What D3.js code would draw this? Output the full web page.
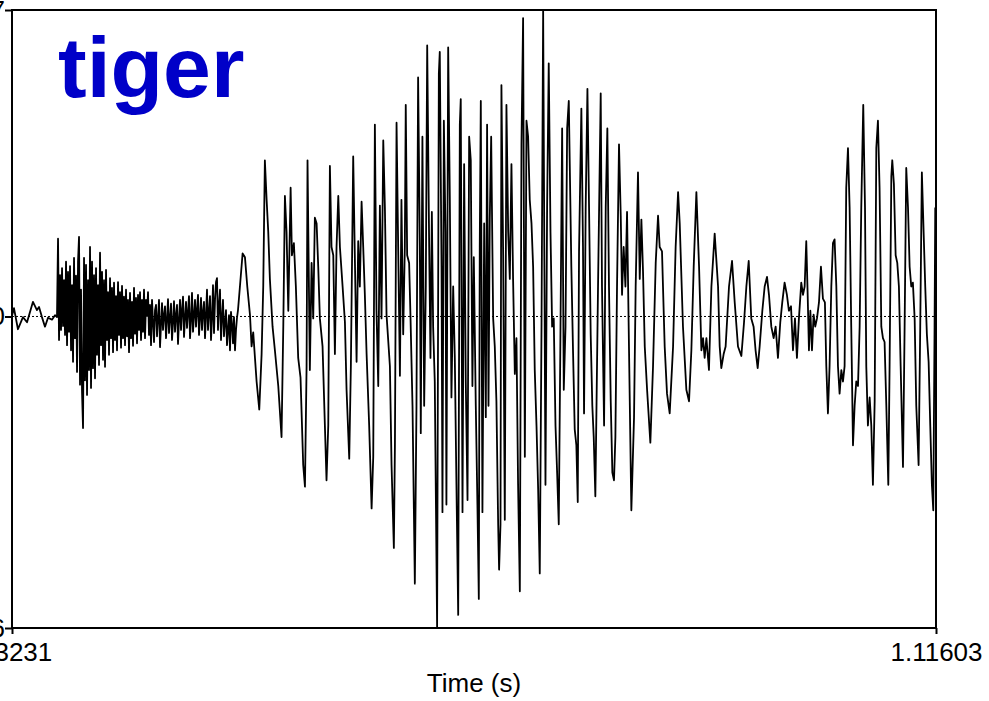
<!DOCTYPE html>
<html>
<head>
<meta charset="utf-8">
<script src="https://cdn.jsdelivr.net/npm/d3@7"></script>
<style>
  html, body { margin: 0; padding: 0; background: #fff; overflow: hidden; }
  svg { display: block; font-family: "Liberation Sans", Arial, Helvetica, sans-serif; }
</style>
</head>
<body>
<svg id="chart" width="989" height="701"></svg>
<script>
// labels and ticks
var title = "tiger";
var xLabel = "Time (s)";
var xTicks = [0.3231, 1.11603];
var yTicks = [-0.4886, 0, 0.4807];

// near silence before the release: [time (s), amplitude]
var onset = [
  [0.3231,0.001],[0.3248,0.013],[0.3282,-0.020],[0.3325,-0.001],[0.3360,-0.009],
  [0.3411,0.023],[0.3445,0.010],[0.3463,0.015],[0.3488,-0.001],[0.3514,-0.016],
  [0.3540,-0.002],[0.3574,-0.005],[0.3600,0.002],[0.3617,-0.001]
];

// aspiration noise of the /t/, one amplitude per sample step
var burstStart = 0.3626, burstStep = 0.000858;
var burst = [
  0.122,-0.037,0.065,-0.021,0.076,-0.015,0.057,-0.029,0.086,-0.045,
  0.070,-0.024,0.079,-0.053,0.049,-0.071,0.092,-0.034,0.064,-0.087,
  0.086,0.125,-0.107,0.042,-0.118,-0.175,0.092,-0.100,0.081,-0.123,
  0.057,-0.084,0.109,-0.112,0.086,-0.081,0.065,-0.097,0.076,-0.060,
  0.049,-0.076,0.100,-0.045,0.070,-0.068,0.057,-0.079,0.073,-0.037,
  0.038,-0.060,0.060,-0.034,0.045,-0.056,0.053,-0.037,0.032,-0.053,
  0.054,-0.029,0.038,-0.049,0.048,-0.034,0.031,-0.045,0.042,-0.031,
  0.026,-0.056,0.037,-0.034,0.023,-0.046,0.045,-0.027,0.029,-0.042,
  0.034,-0.021,0.038,-0.037,0.026,-0.024,0.042,-0.034,0.026,0.001,
  0.038,-0.029,0.018,-0.045,0.026,-0.009,-0.040,0.010,0.018,-0.031,
  -0.002,0.026,-0.048,-0.013,0.021,-0.021,0.002,0.016,-0.034,-0.005,
  0.027,-0.026,-0.002,0.020,-0.037,-0.009,0.024,-0.024,0.002,0.018,
  -0.043,-0.005,0.026,-0.021,0.010,0.031,-0.032,-0.002,0.023,-0.018,
  0.007,0.032,-0.034,-0.005,0.037,-0.024,0.002,0.026,-0.016,0.010,
  0.034,-0.029,-0.002,0.029,-0.021,0.007,0.023,-0.034,0.002,0.042,
  -0.021,0.007,0.032,-0.037,-0.002,0.049,-0.026,0.026,0.054,0.060,
  -0.021,0.018,0.042,-0.037,-0.002,0.026,-0.031,-0.009,0.010,-0.045,
  -0.021,0.002,-0.053,0.007,-0.013,-0.042,-0.001,-0.053,-0.021,-0.002,
  0.010
];

// voiced part (vowel + "ger"): turning points, [time (s), amplitude]
var voiced = [
  [0.5187,0.047],[0.5210,0.099],[0.5230,0.093],[0.5250,0.047],[0.5273,0.003],
  [0.5287,-0.047],[0.5301,-0.025],[0.5316,-0.065],[0.5330,-0.102],[0.5353,-0.146],
  [0.5373,-0.059],[0.5387,0.047],[0.5401,0.245],[0.5416,0.183],[0.5430,0.133],
  [0.5444,0.059],[0.5467,-0.016],[0.5487,-0.053],[0.5516,-0.109],[0.5544,-0.189],
  [0.5559,-0.016],[0.5573,0.189],[0.5587,0.133],[0.5602,0.009],[0.5622,0.202],
  [0.5633,0.096],[0.5650,0.115],[0.5667,0.047],[0.5687,-0.065],[0.5707,-0.096],
  [0.5730,-0.233],[0.5745,-0.267],[0.5759,-0.078],[0.5767,0.245],[0.5787,-0.084],
  [0.5802,0.084],[0.5816,-0.003],[0.5830,0.155],[0.5845,0.146],[0.5859,0.078],
  [0.5873,-0.003],[0.5896,-0.047],[0.5916,-0.171],[0.5930,-0.257],[0.5945,-0.171],
  [0.5959,0.236],[0.5973,0.109],[0.5988,0.096],[0.6002,-0.059],[0.6016,0.109],
  [0.6031,0.189],[0.6045,0.109],[0.6068,0.047],[0.6088,-0.009],[0.6102,-0.115],
  [0.6125,-0.223],[0.6139,-0.078],[0.6159,0.251],[0.6174,0.084],[0.6188,-0.071],
  [0.6202,0.118],[0.6216,0.047],[0.6231,0.180],[0.6245,0.109],[0.6259,0.034],
  [0.6274,-0.059],[0.6296,-0.171],[0.6317,-0.301],[0.6331,-0.220],[0.6345,0.301],
  [0.6359,0.009],[0.6374,-0.109],[0.6388,0.174],[0.6402,-0.003],[0.6417,0.276],
  [0.6431,0.171],[0.6445,0.003],[0.6474,-0.078],[0.6488,-0.233],[0.6508,-0.363],
  [0.6517,-0.202],[0.6531,0.304],[0.6545,0.109],[0.6560,-0.093],[0.6573,0.183],
  [0.6588,-0.028],[0.6602,0.109],[0.6610,0.332],[0.6622,0.096],[0.6639,0.084],
  [0.6651,-0.003],[0.6668,-0.140],[0.6688,-0.419],[0.6702,-0.140],[0.6716,0.375],
  [0.6731,0.109],[0.6739,-0.183],[0.6753,0.282],[0.6768,-0.140],[0.6782,0.047],
  [0.6794,0.425],[0.6811,0.109],[0.6822,-0.065],[0.6834,0.164],[0.6845,-0.016],
  [0.6859,-0.102],[0.6879,-0.487],[0.6894,0.381],[0.6902,0.415],[0.6917,0.078],
  [0.6925,-0.307],[0.6937,0.307],[0.6951,0.133],[0.6959,-0.295],[0.6974,0.422],
  [0.6988,0.189],[0.7002,-0.127],[0.7017,0.047],[0.7031,-0.065],[0.7045,-0.264],
  [0.7060,-0.468],[0.7074,0.301],[0.7082,0.341],[0.7097,-0.307],[0.7111,0.239],
  [0.7125,-0.102],[0.7140,-0.288],[0.7154,0.282],[0.7168,0.245],[0.7182,-0.109],
  [0.7194,0.093],[0.7211,-0.140],[0.7225,-0.295],[0.7237,-0.443],[0.7245,0.109],
  [0.7254,0.338],[0.7268,-0.307],[0.7283,0.146],[0.7297,-0.158],[0.7308,0.301],
  [0.7320,-0.140],[0.7331,0.152],[0.7343,0.282],[0.7360,-0.003],[0.7374,-0.047],
  [0.7388,-0.133],[0.7403,-0.326],[0.7411,-0.397],[0.7423,-0.326],[0.7431,0.363],
  [0.7446,0.096],[0.7460,-0.319],[0.7474,0.332],[0.7489,0.133],[0.7503,0.059],
  [0.7517,0.239],[0.7531,0.059],[0.7546,-0.090],[0.7560,-0.034],[0.7574,-0.264],
  [0.7589,-0.431],[0.7603,0.270],[0.7617,0.468],[0.7632,-0.220],[0.7646,0.307],
  [0.7660,0.282],[0.7674,0.183],[0.7689,0.146],[0.7703,0.078],[0.7717,-0.084],
  [0.7732,-0.171],[0.7746,-0.270],[0.7760,-0.403],[0.7775,-0.016],[0.7789,0.480],
  [0.7809,-0.264],[0.7823,0.171],[0.7837,0.397],[0.7852,0.133],[0.7866,-0.016],
  [0.7880,-0.003],[0.7895,-0.171],[0.7909,-0.245],[0.7923,-0.326],[0.7938,-0.016],
  [0.7952,0.295],[0.7966,-0.115],[0.7981,-0.016],[0.7995,0.295],[0.8009,0.338],
  [0.8031,0.078],[0.8046,-0.059],[0.8060,-0.177],[0.8074,-0.202],[0.8086,-0.291],
  [0.8097,0.102],[0.8117,0.326],[0.8131,0.109],[0.8140,-0.152],[0.8154,0.171],
  [0.8169,0.357],[0.8183,0.171],[0.8197,-0.028],[0.8211,-0.140],[0.8223,-0.189],
  [0.8237,-0.282],[0.8260,0.047],[0.8283,0.350],[0.8294,0.047],[0.8312,-0.171],
  [0.8326,0.171],[0.8340,0.295],[0.8354,0.047],[0.8369,-0.133],[0.8383,-0.245],
  [0.8397,-0.257],[0.8409,-0.189],[0.8423,0.047],[0.8440,0.270],[0.8455,0.158],
  [0.8466,0.034],[0.8480,0.109],[0.8495,0.047],[0.8509,0.164],[0.8526,-0.053],
  [0.8546,-0.304],[0.8569,-0.158],[0.8583,0.047],[0.8603,0.226],[0.8618,0.059],
  [0.8632,0.152],[0.8646,0.071],[0.8661,-0.047],[0.8681,-0.115],[0.8709,-0.198],
  [0.8732,-0.078],[0.8755,0.084],[0.8775,0.158],[0.8789,0.109],[0.8809,0.102],
  [0.8832,-0.047],[0.8852,-0.121],[0.8875,-0.152],[0.8904,-0.047],[0.8926,0.109],
  [0.8947,0.195],[0.8961,0.146],[0.8989,-0.016],[0.9018,-0.115],[0.9041,-0.133],
  [0.9061,-0.053],[0.9081,0.078],[0.9104,0.195],[0.9127,0.078],[0.9147,-0.053],
  [0.9161,-0.034],[0.9175,-0.065],[0.9190,-0.034],[0.9212,-0.084],[0.9233,0.047],
  [0.9261,0.130],[0.9290,0.047],[0.9304,-0.047],[0.9318,-0.081],[0.9338,-0.059],
  [0.9355,-0.047],[0.9384,0.047],[0.9410,0.087],[0.9433,0.022],[0.9461,-0.047],
  [0.9490,-0.062],[0.9513,-0.009],[0.9533,0.047],[0.9553,0.087],[0.9575,-0.003],
  [0.9595,-0.016],[0.9612,-0.053],[0.9630,-0.081],[0.9647,-0.047],[0.9670,0.009],
  [0.9690,0.047],[0.9710,0.062],[0.9727,0.034],[0.9747,-0.016],[0.9767,-0.034],
  [0.9784,-0.016],[0.9804,-0.065],[0.9824,-0.009],[0.9841,0.022],[0.9861,0.053],
  [0.9881,0.034],[0.9898,0.009],[0.9916,0.016],[0.9933,-0.053],[0.9950,-0.003],
  [0.9967,-0.065],[0.9984,-0.003],[1.0004,0.053],[1.0019,0.034],[1.0033,0.047],
  [1.0047,0.118],[1.0059,0.034],[1.0070,-0.053],[1.0082,0.009],[1.0096,-0.053],
  [1.0110,0.003],[1.0124,-0.016],[1.0139,-0.003],[1.0156,0.022],[1.0173,0.078],
  [1.0190,0.028],[1.0207,0.022],[1.0219,-0.078],[1.0233,-0.152],[1.0247,-0.078],
  [1.0262,0.047],[1.0276,0.115],[1.0290,0.121],[1.0305,0.047],[1.0319,-0.078],
  [1.0333,-0.121],[1.0348,-0.084],[1.0362,-0.102],[1.0376,-0.078],[1.0390,0.202],
  [1.0405,0.264],[1.0419,0.171],[1.0433,-0.016],[1.0448,-0.202],[1.0462,-0.140],
  [1.0476,-0.102],[1.0491,-0.109],[1.0505,-0.016],[1.0519,0.171],[1.0536,0.332],
  [1.0551,0.171],[1.0562,-0.078],[1.0576,-0.171],[1.0591,-0.127],[1.0605,-0.171],
  [1.0619,-0.264],[1.0634,-0.133],[1.0648,0.264],[1.0662,0.307],[1.0676,0.202],
  [1.0691,-0.016],[1.0705,-0.034],[1.0719,-0.040],[1.0734,-0.140],[1.0751,-0.264],
  [1.0762,-0.078],[1.0777,0.220],[1.0785,0.245],[1.0799,0.208],[1.0814,0.096],
  [1.0828,0.084],[1.0842,0.047],[1.0857,-0.078],[1.0877,-0.236],[1.0891,-0.016],
  [1.0905,0.233],[1.0920,0.171],[1.0934,0.078],[1.0948,0.047],[1.0962,0.053],
  [1.0977,-0.003],[1.0991,-0.140],[1.1011,-0.233],[1.1025,-0.016],[1.1039,0.226],
  [1.1054,0.133],[1.1068,0.047],[1.1082,-0.028],[1.1097,-0.071],[1.1111,-0.171],
  [1.1125,-0.264],[1.1137,-0.304],[1.1148,-0.016],[1.1154,0.171]
];

var margin = {top: 10, right: 53, bottom: 73, left: 12},
    width = 989 - margin.left - margin.right,
    height = 701 - margin.top - margin.bottom;

var svg = d3.select("#chart");
var g = svg.append("g")
    .attr("transform", "translate(" + margin.left + "," + margin.top + ")");

var x = d3.scaleLinear().domain([xTicks[0], xTicks[1]]).range([0, width]);
var y = d3.scaleLinear().domain([yTicks[0], yTicks[2]]).range([height, 0]);

// put the three pieces of the signal together
var samples = onset
  .concat(burst.map(function(a, i) { return [burstStart + i * burstStep, a]; }))
  .concat(voiced);

// dotted zero line
g.append("line")
    .attr("x1", 0).attr("x2", width)
    .attr("y1", y(0)).attr("y2", y(0))
    .attr("stroke", "#000")
    .attr("stroke-width", 1)
    .attr("stroke-dasharray", "2,2");

var wave = d3.line()
    .x(function(d) { return x(d[0]); })
    .y(function(d) { return y(d[1]); });

g.append("path")
    .datum(samples)
    .attr("d", wave)
    .attr("fill", "none")
    .attr("stroke", "#000")
    .attr("stroke-width", 1.8)
    .attr("stroke-linejoin", "round");

// frame
g.append("rect")
    .attr("width", width).attr("height", height)
    .attr("fill", "none")
    .attr("stroke", "#000")
    .attr("stroke-width", 2);

// axes, only the end values like Praat
var yAxis = g.append("g")
    .call(d3.axisLeft(y)
      .tickValues(yTicks)
      .tickSize(7)
      .tickPadding(0)
      .tickFormat(function(d) { return d === 0 ? "0" : d.toFixed(4); }));

var xAxis = g.append("g")
    .attr("transform", "translate(0," + height + ")")
    .call(d3.axisBottom(x)
      .tickValues(xTicks)
      .tickSize(6)
      .tickPadding(9)
      .tickFormat(function(d) { return String(d); }));

[yAxis, xAxis].forEach(function(ax) {
  ax.select(".domain").remove();
  ax.selectAll(".tick line").attr("stroke", "#000").attr("stroke-width", 2);
  ax.selectAll(".tick text")
    .attr("fill", "#000")
    .style("font-family", "'Liberation Sans', Arial, sans-serif")
    .style("font-size", "26px");
});

svg.append("text")
    .attr("x", margin.left + width / 2)
    .attr("y", 692)
    .attr("text-anchor", "middle")
    .style("font-size", "26px")
    .text(xLabel);

svg.append("text")
    .attr("x", 58)
    .attr("y", 97)
    .style("font-size", "86px")
    .style("font-weight", "bold")
    .attr("fill", "#0000c8")
    .text(title);
</script>
</body>
</html>
